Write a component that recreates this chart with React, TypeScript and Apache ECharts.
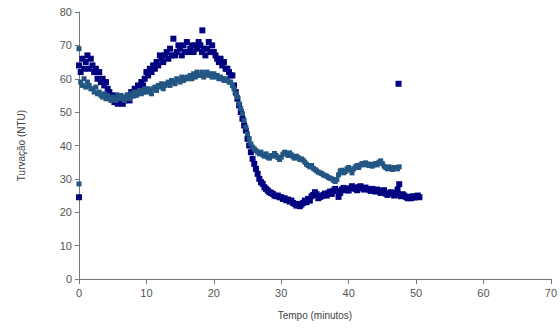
import React, { useEffect, useRef } from "react";
import * as echarts from "echarts";

// sampling interval (minutes) between consecutive readings
const STEP = 0.25;

// Series 1 (dark navy) turbidity readings, NTU, one every STEP minutes from t = 0
const navyValues: number[] = [
  64, 62, 66, 63, 65, 67, 63, 66, 64, 62, 63, 60, 62, 59, 60, 58,
  59, 57, 56, 55, 54, 53, 55, 52.5, 53, 54, 52.5, 53.5, 54, 55, 53.5, 56,
  55, 57, 56, 58, 57, 59, 58, 60, 62, 61, 63, 62, 64, 63, 65, 64,
  67, 66, 65, 67, 68, 66, 69, 67, 72, 67, 68, 70, 69, 67, 70, 68,
  71, 68, 69, 70, 68, 70, 69, 71, 70, 68, 69, 67, 69, 71, 68, 70,
  68, 67, 66, 65, 66, 64, 65, 63, 63, 62, 61, 61, 58, 56, 54, 52,
  50, 48, 46, 44.5, 42, 40, 38, 36, 34.5, 33, 31.5, 30, 29, 28.5, 27.5, 27,
  26.5, 26, 25.8, 25.5, 25, 24.8, 25, 24.5, 24.5, 24, 24.2, 23.6, 23.8, 23.2, 23.5, 22.8,
  22.5, 22, 22.5, 21.8, 22.3, 22.8, 23.5, 23, 24, 23.5, 24.8, 25.2, 26, 25.4, 24.2, 24.6,
  24.8, 25.2, 25.6, 25, 25.8, 26.2, 25.5, 26.5, 27, 26.4, 24.6, 25.8, 26.8, 27.3, 26.6, 27,
  26.5, 27.2, 27.8, 27.4, 27, 26.6, 27.5, 27.8, 27.2, 26.8, 27.4, 27, 26.8, 26.4, 27, 26.6,
  26.2, 26.8, 26.4, 25.8, 26.2, 26.6, 25.6, 25.2, 25.6, 26, 25.8, 25, 25.4, 26.8, 25.2, 24.8,
  25.4, 25, 24.6, 24.2, 24.6, 24.2, 24.8, 24.4, 24.6, 25, 24.5,
];

// Series 1 isolated readings [minutes, NTU]
const navyStray: [number, number][] = [
  [0, 24.5],
  [18.3, 74.5],
  [47.4, 58.5],
  [47.5, 28.4],
];

// Series 2 (steel blue) turbidity readings, NTU, one every STEP minutes from t = 0
const tealValues: number[] = [
  69, 59, 58, 60, 57.5, 59, 58, 57, 57, 56, 57.5, 55.5, 56, 55, 54.5, 55.5,
  54, 55, 54, 53.5, 54.5, 54, 53.5, 55, 54, 55, 54.5, 53.5, 54.5, 55, 54, 55.5,
  55, 56, 55, 55.5, 56.5, 55.5, 56, 57, 56, 57, 56.5, 55.5, 57, 57.5, 56.5, 58,
  57.5, 58.5, 57, 58, 58.5, 59, 58, 59.5, 59, 58.5, 60, 59.5, 59, 60.5, 59.5, 60,
  60.5, 60, 61, 60, 61.5, 60.5, 62, 61, 61, 62, 60.5, 61.5, 62, 61, 61.5, 60.5,
  61.5, 60.5, 61, 60, 60.5, 60, 59.5, 60, 59.5, 59, 59, 58, 57, 55.5, 54.5, 52.5,
  51, 49.5, 47.5, 45.5, 43.5, 42, 40.5, 39.5, 39, 38.5, 38, 37.5, 38, 37.2, 36.8, 37.5,
  36.5, 36.2, 37, 36.8, 37.6, 37, 36.4, 35.8, 36.5, 37.4, 38, 37.6, 37, 37.8, 37.2, 36.6,
  36.2, 36.8, 36.4, 35.8, 36, 35.6, 35, 34.4, 34, 33.6, 34, 33.2, 32.8, 32.4, 32, 31.8,
  31.6, 31.2, 31, 30.8, 30.4, 30.2, 30, 29.6, 29.2, 29.8, 31.2, 32.4, 32.6, 31.8, 32.2, 33,
  33.4, 32.6, 31.8, 33, 33.6, 34, 33.4, 34.2, 34.6, 34.2, 34.8, 34.4, 34, 34.4, 33.8, 34.2,
  34.6, 34.2, 35, 35.4, 34.6, 33.8, 33.4, 33, 33.6, 33.2, 32.8, 33.4, 33.4, 33, 33.6,
];

// Series 2 isolated readings [minutes, NTU]
const tealStray: [number, number][] = [[0, 28.5]];

// axis ticks
const xTicks = { min: 0, max: 70, interval: 10 };
const yTicks = { min: 0, max: 80, interval: 10 };

const toPoints = (vals: number[], stray: [number, number][]) =>
  vals.map((v, i) => [i * STEP, v] as [number, number]).concat(stray);

export default function App() {
  const ref = useRef<HTMLDivElement>(null);
  useEffect(() => {
    if (!ref.current) return;
    const chart = echarts.init(ref.current, null, { renderer: "svg" });
    const axisLabel = {
      color: "#555",
      fontFamily: "Liberation Sans, Arial, sans-serif",
      fontSize: 11,
    };
    chart.setOption({
      animation: false,
      backgroundColor: "#fff",
      grid: { left: 79, right: 6, top: 12, bottom: 50, containLabel: false },
      xAxis: {
        type: "value",
        ...xTicks,
        name: "Tempo (minutos)",
        nameLocation: "middle",
        nameGap: 31,
        nameTextStyle: { ...axisLabel, fontSize: 10, color: "#444" },
        axisLine: { show: true, lineStyle: { color: "#777", width: 1 } },
        axisTick: { show: true, inside: false, length: 5, lineStyle: { color: "#777" } },
        axisLabel: { ...axisLabel, margin: 8 },
        splitLine: { show: false },
      },
      yAxis: {
        type: "value",
        ...yTicks,
        name: "Turvação (NTU)",
        nameLocation: "middle",
        nameGap: 53,
        nameTextStyle: { ...axisLabel, fontSize: 10, color: "#444" },
        axisLine: { show: true, lineStyle: { color: "#777", width: 1 } },
        axisTick: { show: true, inside: false, length: 4, lineStyle: { color: "#777" } },
        axisLabel: { ...axisLabel, margin: 7 },
        splitLine: { show: false },
      },
      series: [
        {
          type: "scatter",
          symbol: "rect",
          symbolSize: 6,
          itemStyle: { color: "#000080", opacity: 1 },
          data: toPoints(navyValues, navyStray),
        },
        {
          type: "scatter",
          symbol: "rect",
          symbolSize: 5,
          itemStyle: { color: "#235683", opacity: 1 },
          data: toPoints(tealValues, tealStray),
        },
      ],
    });
    return () => chart.dispose();
  }, []);
  return (
    <div
      ref={ref}
      style={{ position: "absolute", left: 0, top: 0, width: 560, height: 329 }}
    />
  );
}
